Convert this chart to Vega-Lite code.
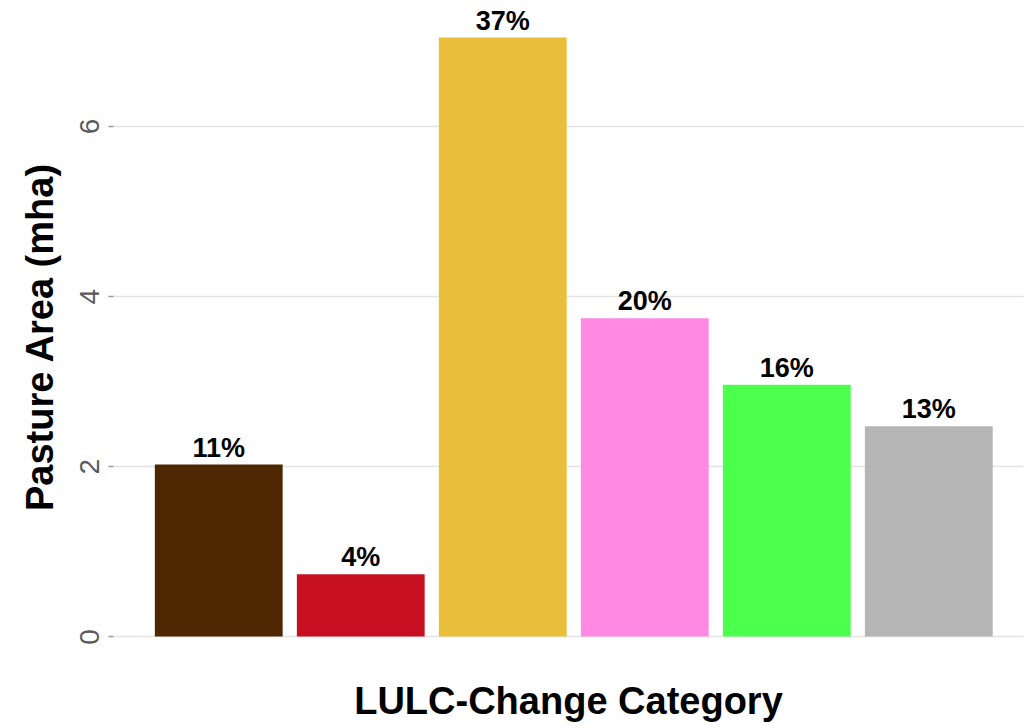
{
  "$schema": "https://vega.github.io/schema/vega-lite/v6.json",
  "autosize": {"type": "none"},
  "padding": {"left": 113, "top": 7, "right": 4, "bottom": 61},
  "width": 910,
  "height": 660,
  "background": "white",
  "config": {
    "view": {"stroke": null},
    "font": "Liberation Sans"
  },
  "data": {
    "values": [
      {"category": "Category 1", "area": 2.02, "label": "11%"},
      {"category": "Category 2", "area": 0.73, "label": "4%"},
      {"category": "Category 3", "area": 7.04, "label": "37%"},
      {"category": "Category 4", "area": 3.74, "label": "20%"},
      {"category": "Category 5", "area": 2.96, "label": "16%"},
      {"category": "Category 6", "area": 2.47, "label": "13%"}
    ]
  },
  "encoding": {
    "x": {
      "field": "category",
      "type": "nominal",
      "sort": null,
      "scale": {"paddingInner": 0.1, "paddingOuter": 0.254, "align": 0.58},
      "axis": {
        "title": "LULC-Change Category",
        "labels": false,
        "ticks": false,
        "domain": false,
        "grid": false,
        "titleFont": "Liberation Sans",
        "titleFontSize": 38,
        "titleFontWeight": "bold",
        "titleColor": "black",
        "titlePadding": 16
      }
    },
    "y": {
      "field": "area",
      "type": "quantitative",
      "scale": {"domain": [-0.36, 7.4], "nice": false, "zero": false},
      "axis": {
        "title": "Pasture Area (mha)",
        "values": [0, 2, 4, 6],
        "domain": false,
        "grid": true,
        "gridColor": "#E3E3E3",
        "gridWidth": 1.5,
        "ticks": true,
        "tickSize": 5,
        "tickColor": "#999999",
        "tickWidth": 1.5,
        "labelAngle": -90,
        "labelAlign": "center",
        "labelBaseline": "bottom",
        "labelPadding": 4,
        "labelFont": "Liberation Sans",
        "labelFontSize": 28,
        "labelColor": "#5A5A5A",
        "titleFont": "Liberation Sans",
        "titleFontSize": 38,
        "titleFontWeight": "bold",
        "titleColor": "black",
        "titlePadding": 16
      }
    }
  },
  "layer": [
    {
      "mark": {"type": "bar"},
      "encoding": {
        "y2": {"datum": 0},
        "color": {
          "field": "category",
          "type": "nominal",
          "sort": null,
          "legend": null,
          "scale": {
            "domain": ["Category 1", "Category 2", "Category 3", "Category 4", "Category 5", "Category 6"],
            "range": ["#4D2700", "#C70F22", "#E8BE3A", "#FF89E3", "#4DFF4D", "#B5B5B5"]
          }
        }
      }
    },
    {
      "mark": {
        "type": "text",
        "baseline": "alphabetic",
        "dy": -8,
        "fontSize": 27,
        "fontWeight": "bold",
        "font": "Liberation Sans",
        "color": "black"
      },
      "encoding": {
        "text": {"field": "label"}
      }
    }
  ]
}
